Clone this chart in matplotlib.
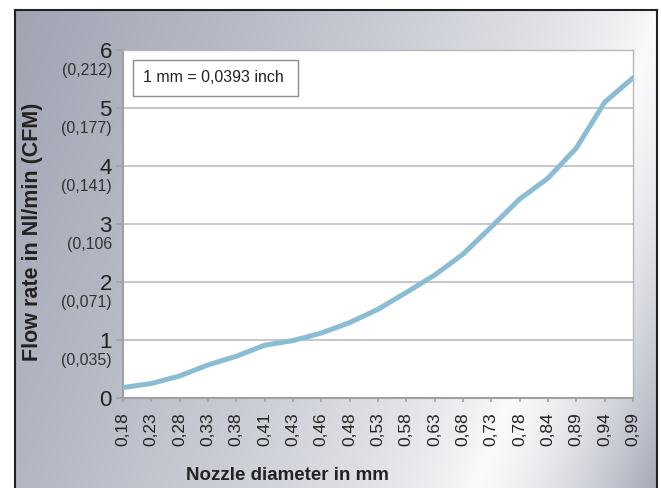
import numpy as np
import matplotlib
matplotlib.use("Agg")
import matplotlib.pyplot as plt
from matplotlib.patches import Rectangle

plt.rcParams['font.family'] = ['Liberation Sans', 'DejaVu Sans']

# ---- data ----
diameters = ["0,18", "0,23", "0,28", "0,33", "0,38", "0,41", "0,43", "0,46", "0,48",
             "0,53", "0,58", "0,63", "0,68", "0,73", "0,78", "0,84", "0,89", "0,94", "0,99"]
flow_nl_min = [0.18, 0.25, 0.38, 0.57, 0.72, 0.91, 0.99, 1.12, 1.30,
               1.53, 1.82, 2.12, 2.48, 2.95, 3.43, 3.79, 4.31, 5.10, 5.52]
y_ticks = [0, 1, 2, 3, 4, 5, 6]
y_tick_labels = ["0", "1", "2", "3", "4", "5", "6"]
cfm_labels = {1: "(0,035)", 2: "(0,071)", 3: "(0,106", 4: "(0,141)", 5: "(0,177)", 6: "(0,212)"}
note_text = "1 mm = 0,0393 inch"
x_label = "Nozzle diameter in mm"
y_label = "Flow rate in Nl/min (CFM)"

W, H = 661, 488
fig = plt.figure(figsize=(W / 100, H / 100), dpi=100)
fig.patch.set_facecolor("white")

# ---- gradient frame background ----
fx0, fy0, fx1, fy1 = 15, 10, 657, 488
bg = fig.add_axes([fx0 / W, 1 - fy1 / H, (fx1 - fx0) / W, (fy1 - fy0) / H], zorder=0)
xs = np.arange(fx0, fx1) + 0.5
ys = np.arange(fy0, fy1) + 0.5
X, Y = np.meshgrid(xs, ys)
A = np.array([650.0, 30.0])
n = np.array([0.931, 0.366])
d = (X - A[0]) * n[0] + (Y - A[1]) * n[1]
t = np.where(d < 0, np.clip(-d / 600.0, 0, 1) ** 0.7, np.clip(d / 180.0, 0, 1) ** 1.5)
light = np.array([250, 250, 251]) / 255.0
dark = np.array([160, 164, 179]) / 255.0
img = light[None, None, :] * (1 - t[..., None]) + dark[None, None, :] * t[..., None]
bg.imshow(img, aspect="auto", extent=(fx0, fx1, fy1, fy0), interpolation="bilinear")
bg.set_xticks([]); bg.set_yticks([])
for s in ["top", "left", "right"]:
    bg.spines[s].set_color("#222222")
    bg.spines[s].set_linewidth(1.5)
bg.spines["bottom"].set_visible(False)

# ---- main plot ----
px0, py0, px1, py1 = 123, 50, 633, 398
ax = fig.add_axes([px0 / W, 1 - py1 / H, (px1 - px0) / W, (py1 - py0) / H], zorder=1)
ax.set_facecolor("white")
xpos = np.arange(len(diameters))
ax.plot(xpos, flow_nl_min, color="#8abdd3", linewidth=3.6, solid_capstyle="round",
        solid_joinstyle="round", zorder=3)
ax.set_xlim(0, len(diameters) - 1)
ax.set_ylim(0, 6)
ax.set_yticks(y_ticks)
ax.set_yticklabels(y_tick_labels, fontsize=16, color="#222222")
ax.set_xticks(xpos)
ax.set_xticklabels(diameters, rotation=90, fontsize=12.5, color="#222222")
ax.tick_params(axis="y", length=5, width=1.2, color="#a0a0a0", pad=3)
ax.tick_params(axis="x", length=3, width=1.2, color="#a0a0a0", pad=7)
ax.grid(axis="y", color="#bdbdbd", linewidth=1.2)
ax.set_axisbelow(True)
for s in ["top", "right"]:
    ax.spines[s].set_color("#b8b8b8")
    ax.spines[s].set_linewidth(1.0)
for s in ["left", "bottom"]:
    ax.spines[s].set_color("#a0a0a0")
    ax.spines[s].set_linewidth(1.5)

for v, lab in cfm_labels.items():
    ax.annotate(lab, xy=(0, v), xycoords=("axes fraction", "data"),
                xytext=(-8, -15), textcoords="offset points",
                ha="right", va="center", fontsize=11.5, color="#333333")

# note box
bx0, by0, bx1, by1 = 133, 60, 298, 96
ax.add_patch(Rectangle(((bx0 - px0) / (px1 - px0), (py1 - by1) / (py1 - py0)),
                       (bx1 - bx0) / (px1 - px0), (by1 - by0) / (py1 - py0),
                       transform=ax.transAxes, facecolor="white", edgecolor="#8c8c8c",
                       linewidth=1.0, zorder=4))
ax.text((143 - px0) / (px1 - px0), (py1 - 78) / (py1 - py0), note_text,
        transform=ax.transAxes, ha="left", va="center", fontsize=11.5,
        color="#222222", zorder=5)

fig.text(33 / W, 1 - 232 / H, y_label, rotation=90, ha="center", va="center",
         fontsize=15.5, fontweight="bold", color="#222222")
fig.text(287 / W, 1 - 480 / H, x_label, ha="center", va="baseline",
         fontsize=13.5, fontweight="bold", color="#222222")

fig.savefig("out.png", dpi=100)
